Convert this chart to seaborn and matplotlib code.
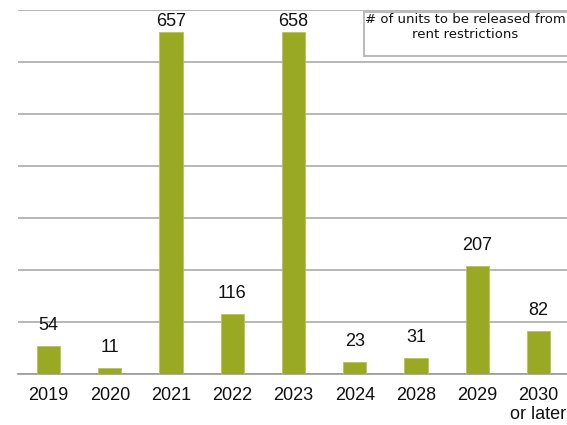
import matplotlib
matplotlib.use("Agg")
import matplotlib.pyplot as plt
import seaborn as sns
import pandas as pd
from matplotlib.patches import Rectangle
from matplotlib.ticker import MultipleLocator, FixedLocator

years = ["2019", "2020", "2021", "2022", "2023", "2024", "2028", "2029", "2030\nor later"]
units = [54, 11, 657, 116, 658, 23, 31, 207, 82]
legend_label = "# of units to be released from\nrent restrictions"

df = pd.DataFrame({"year": years, "units": units})

sns.set_style("white")
plt.rcParams["font.family"] = ["Liberation Sans", "DejaVu Sans"]

fig = plt.figure(figsize=(5.67, 4.25), dpi=100)
ax_h_px = 364
ax = fig.add_axes([18 / 567, 1 - 374 / 425, 551 / 567, ax_h_px / 425])

bar_color = "#99a923"
sns.barplot(data=df, x="year", y="units", color=bar_color, width=0.38,
            saturation=1, edgecolor="#b8c45a", linewidth=0.6, ax=ax, zorder=3)

ymax = 700
ax.set_ylim(0, ymax)
ax.set_xlim(-0.5, len(years) - 0.5)
ax.yaxis.set_major_locator(MultipleLocator(100))
ax.grid(axis="y", color="#aaaaaa", linewidth=1.2, zorder=0)
ax.set_yticklabels([])
ax.tick_params(axis="y", length=0)

# category labels at bar centres, tick marks on the category boundaries
ax.tick_params(axis="x", which="major", length=0, labelsize=13, pad=9, colors="#111111")
ax.xaxis.set_minor_locator(FixedLocator([i - 0.5 for i in range(len(years) + 1)]))
ax.tick_params(axis="x", which="minor", length=5, width=1, color="#999999", direction="out")
ax.set_xlabel("")
ax.set_ylabel("")

for s in ["top", "right", "left"]:
    ax.spines[s].set_visible(False)
ax.spines["bottom"].set_color("#999999")
ax.spines["bottom"].set_linewidth(1.2)

# value labels above bars; squeezed closer to the bar when near the top of the axes
px_per_unit = ax_h_px / ymax
for i, v in enumerate(units):
    headroom_px = (ymax - v) * px_per_unit
    offset_px = max(2, min(12, headroom_px - 20))
    ax.annotate(str(v), (i, v), xytext=(0, offset_px * 0.72), textcoords="offset points",
                ha="center", va="bottom", fontsize=13, color="#111111")

# legend-style caption box in the upper right
box = Rectangle((364 / 567, 1 - 56 / 425), 210 / 567, 44 / 425,
                transform=fig.transFigure, facecolor="white",
                edgecolor="#bbbbbb", linewidth=1.5, zorder=5)
fig.patches.append(box)
fig.text(465 / 567, 1 - 13 / 425, legend_label, ha="center", va="top",
         multialignment="center", fontsize=9.5, family="DejaVu Sans",
         color="#111111", zorder=6, linespacing=1.15)

fig.savefig("out.png", dpi=100)
